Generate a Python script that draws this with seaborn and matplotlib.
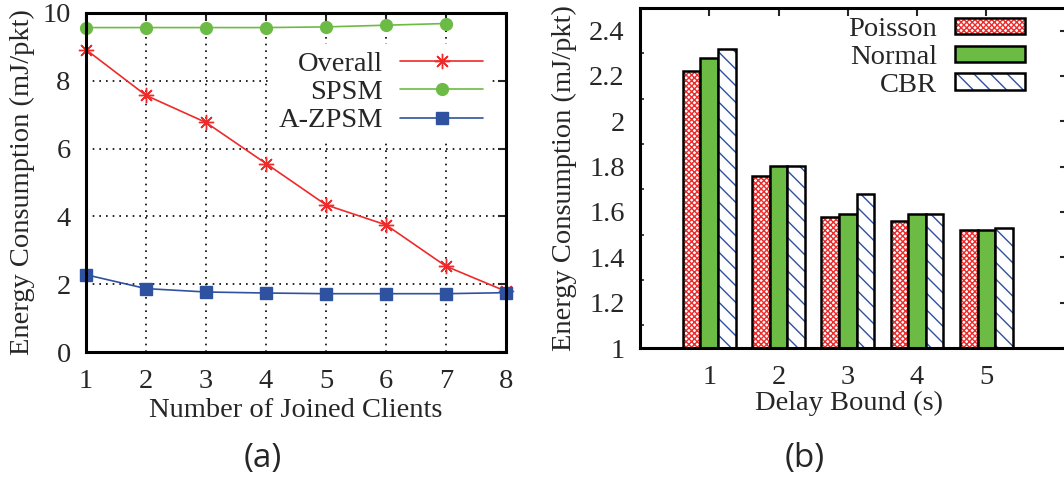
import numpy as np
import pandas as pd
import matplotlib
matplotlib.use("Agg")
import matplotlib.pyplot as plt
from matplotlib.colors import to_rgba
from matplotlib.ticker import MultipleLocator
import seaborn as sns

# ---------------- data ----------------
clients = [1, 2, 3, 4, 5, 6, 7, 8]
overall = [8.92, 7.57, 6.77, 5.56, 4.34, 3.75, 2.53, 1.79]
spsm_clients = [1, 2, 3, 4, 5, 6, 7]
spsm = [9.57, 9.57, 9.57, 9.57, 9.59, 9.64, 9.69]
azpsm = [2.28, 1.87, 1.77, 1.74, 1.72, 1.72, 1.72, 1.75]

delay_bounds = [1, 2, 3, 4, 5]
poisson = [2.22, 1.76, 1.58, 1.56, 1.52]
normal = [2.28, 1.805, 1.59, 1.59, 1.52]
cbr = [2.32, 1.805, 1.68, 1.59, 1.53]
dist_names = ["Poisson", "Normal", "CBR"]

# ---------------- style ----------------
sns.set_style("white")
plt.rcParams["font.family"] = ["Liberation Serif", "DejaVu Serif"]
FS = 20.5
plt.rcParams["font.size"] = FS
plt.rcParams["hatch.linewidth"] = 1.0

RED = "#ee2a2a"
GREEN = "#6cbb45"
BLUE = "#2f52a0"

W, H = 1064, 479
fig = plt.figure(figsize=(W / 100, H / 100), dpi=100)

def px_axes(l, t, r, b):
    return fig.add_axes([l / W, 1 - b / H, (r - l) / W, (b - t) / H])

# ---------------- panel (a) ----------------
ax1 = px_axes(86, 13, 506, 352)
series = [
    ("Overall", clients, overall, RED, (8, 2, 0), 11),
    ("SPSM", spsm_clients, spsm, GREEN, "o", 8.5),
    ("A-ZPSM", clients, azpsm, BLUE, "s", 9),
]
for name, xs, ys, c, m, ms in series:
    df = pd.DataFrame({"x": xs, "y": ys})
    sns.lineplot(data=df, x="x", y="y", ax=ax1, color=c, marker=m, markersize=ms,
                 markeredgecolor=c, markerfacecolor=c, markeredgewidth=1.0,
                 linewidth=1.2, label=name, clip_on=False, zorder=3)

ax1.set_xlim(1, 8)
ax1.set_ylim(0, 10)
ax1.set_xticks(clients)
ax1.set_yticks([0, 2, 4, 6, 8, 10])
ax1.grid(True, color="black", linestyle=(0, (1, 3)), linewidth=1.2)
ax1.tick_params(direction="in", length=6, width=1.5, top=True, right=True,
                labelsize=FS)
ax1.tick_params(axis="x", pad=12)
ax1.tick_params(axis="y", pad=11)
for s in ax1.spines.values():
    s.set_linewidth(2.2)
    s.set_color("black")
    s.set_zorder(5)
ax1.set_xlabel("Number of Joined Clients", fontsize=FS)
ax1.set_ylabel("Energy Consumption (mJ/pkt)", fontsize=FS)
ax1.xaxis.set_label_coords(0.5, -0.135)
ax1.yaxis.set_label_coords((35 - 86) / 420, 0.5)
leg1 = ax1.legend(loc="upper right", bbox_to_anchor=((490 - 86) / 420, (352 - 44) / 339),
                  markerfirst=False, frameon=True, fancybox=False, framealpha=1,
                  facecolor="white", edgecolor="none", handlelength=2.9,
                  handletextpad=0.6, labelspacing=0.08, borderpad=0.25,
                  borderaxespad=0, fontsize=FS, numpoints=1)
for t in leg1.get_texts():
    t.set_ha("right")
leg1._legend_box.align = "right"
leg1.set_zorder(4)

# ---------------- panel (b) ----------------
ax2 = px_axes(640, 8, 1068, 348)
rows = []
for name, vals in zip(dist_names, [poisson, normal, cbr]):
    for d, v in zip(delay_bounds, vals):
        rows.append({"delay": d, "dist": name, "value": v})
bdf = pd.DataFrame(rows)
sns.barplot(data=bdf, x="delay", y="value", hue="dist", hue_order=dist_names,
            native_scale=True, width=0.76, gap=0,
            palette={"Poisson": "white", "Normal": GREEN, "CBR": "white"},
            edgecolor="black", linewidth=1.8, saturation=1, legend=False,
            ax=ax2, zorder=2)

hatch_specs = {"Poisson": ("xxxxxx", RED), "Normal": (None, None), "CBR": ("\\\\", BLUE)}
for cont, name in zip(ax2.containers, dist_names):
    h, hc = hatch_specs[name]
    for p in cont.patches:
        if h:
            p.set_hatch(h)
            p._hatch_color = to_rgba(hc)

ax2.set_xlim(0, 6.18)
ax2.set_ylim(1, 2.5)
ax2.set_xticks(delay_bounds)
ax2.set_xticklabels([str(d) for d in delay_bounds])
ax2.set_yticks([1, 1.2, 1.4, 1.6, 1.8, 2, 2.2, 2.4])
ax2.set_yticklabels(["1", "1.2", "1.4", "1.6", "1.8", "2", "2.2", "2.4"])
ax2.yaxis.set_minor_locator(MultipleLocator(0.1))
ax2.tick_params(which="major", direction="in", length=6, width=1.5, top=True,
                right=True, labelsize=FS)
ax2.tick_params(which="minor", direction="in", length=3, width=1.2, left=True,
                right=True)
ax2.tick_params(axis="x", pad=12)
ax2.tick_params(axis="y", pad=11)
for s in ax2.spines.values():
    s.set_linewidth(2.2)
    s.set_color("black")
ax2.set_xlabel("Delay Bound (s)", fontsize=FS)
ax2.set_ylabel("Energy Consumption (mJ/pkt)", fontsize=FS)
ax2.xaxis.set_label_coords((849 - 640) / 428, -0.125)
ax2.yaxis.set_label_coords((577 - 640) / 428, 0.5)
leg2 = ax2.legend(handles=list(ax2.containers), labels=dist_names,
                  loc="upper right",
                  bbox_to_anchor=((1025 - 640) / 428, (348 - 17) / 340),
                  frameon=False, markerfirst=False, handlelength=2.46,
                  handleheight=0.5, handletextpad=0.63, labelspacing=0.1,
                  borderpad=0.0, borderaxespad=0, fontsize=FS)
for t in leg2.get_texts():
    t.set_ha("right")
leg2._legend_box.align = "right"

# ---------------- panel captions ----------------
fig.text(263 / W, 1 - 458 / H, "(a)", ha="center", va="center", fontsize=24,
         family=["Open Sans", "DejaVu Sans"])
fig.text(805 / W, 1 - 458 / H, "(b)", ha="center", va="center", fontsize=24,
         family=["Open Sans", "DejaVu Sans"])

fig.savefig("out.png", dpi=100)
